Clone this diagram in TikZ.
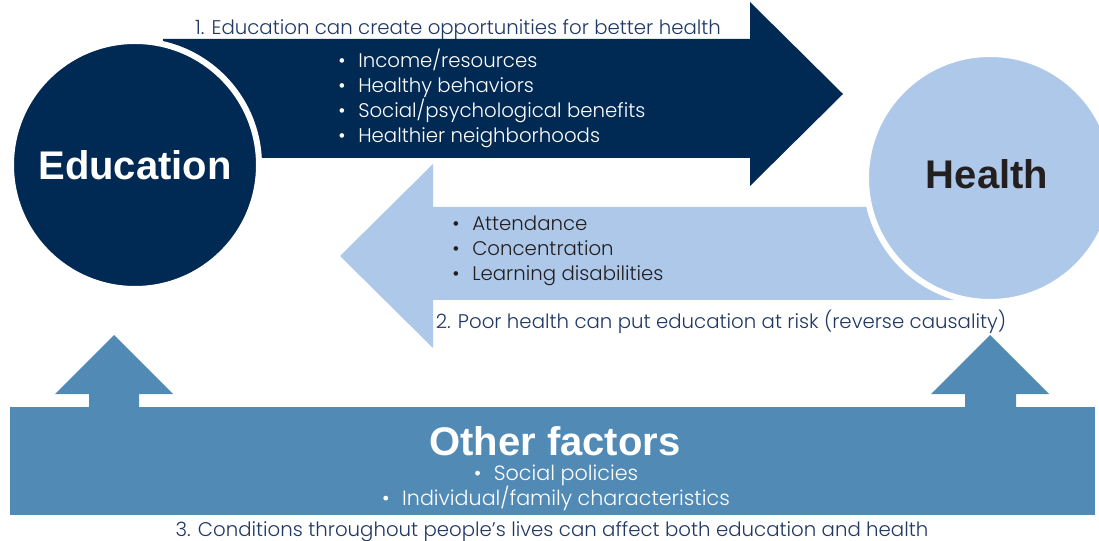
\documentclass[tikz,border=0pt]{standalone}
\usepackage{fontspec}
\setmainfont{Poppins}[UprightFont=* Light]
\newfontfamily\headf{Liberation Sans}
\definecolor{navy}{RGB}{0,41,84}
\definecolor{navytext}{RGB}{31,56,100}
\definecolor{lightblue}{RGB}{174,200,233}
\definecolor{steel}{RGB}{82,138,182}
\definecolor{nearblack}{RGB}{35,31,32}
\newcommand\reg{\fontsize{14.8}{18}\selectfont}
\newcommand\regb{\fontsize{15.5}{18}\selectfont}
\newcommand\bigf{\headf\bfseries\fontsize{30}{36}\selectfont}
\newcommand\bul{\makebox[15pt][l]{\textbullet}}
\tikzset{
  lbl/.style={inner sep=0pt, text=navytext, font=\reg, text height=14pt, text depth=2pt},
  bl/.style={inner sep=0pt, anchor=west, font=\reg, text height=14pt, text depth=2pt},
  ringc/.style={circle, draw=white, line width=4.5pt, inner sep=0pt, minimum size=186pt},
  bigt/.style={inner sep=0pt, font=\bigf}
}
\begin{document}
\begin{tikzpicture}[x=0.75pt,y=-0.75pt]
\useasboundingbox (0,0) rectangle (1099,541);
\begin{scope}
\clip (0,0) rectangle (1099,541);
% dark arrow
\fill[navy] (163,39) -- (750,39) -- (750,2) -- (843,94) -- (750,186) -- (750,158) -- (163,158) -- cycle;
\node[ringc, fill=navy] (edu) at (135,165) {};
% light arrow
\fill[lightblue] (990,207) -- (433,207) -- (433,164) -- (340,256) -- (433,348) -- (433,300) -- (990,300) -- cycle;
\node[ringc, fill=lightblue] (hea) at (990,178) {};
% bottom
\fill[steel] (89,407) -- (89,394) -- (55,394) -- (114,335) -- (173,394) -- (139,394) -- (139,407) -- cycle;
\fill[steel] (965,407) -- (965,394) -- (931,394) -- (990,335) -- (1049,394) -- (1016,394) -- (1016,407) -- cycle;
\node[fill=steel, inner sep=0pt, minimum width=813.75pt, minimum height=81pt] (other) at (552.5,461) {};
\end{scope}
% big titles
\node[bigt, text=white] (edut) at (135,165) {Education};
\node[bigt, text=nearblack] (heat) at (987,174) {Health};
\node[bigt, text=white] (othert) at (555,441) {Other factors};
% labels
\node[lbl] (lab1) at (458,27) {1. Education can create opportunities for better health};
\node[lbl] (lab2) at (721,321) {2. Poor health can put education at risk (reverse causality)};
\node[lbl] (lab3) at (552,528) {3. Conditions throughout people's lives can affect both education and health};
% dark arrow bullets
\node[bl, text=white] (d1) at (338,60) {\bul Income/resources};
\node[bl, text=white] (d2) at (338,85) {\bul Healthy behaviors};
\node[bl, text=white] (d3) at (338,110) {\bul Social/psychological benefits};
\node[bl, text=white] (d4) at (338,135) {\bul Healthier neighborhoods};
% light arrow bullets
\node[bl, text=nearblack] (h1) at (452,223) {\bul Attendance};
\node[bl, text=nearblack] (h2) at (452,248) {\bul Concentration};
\node[bl, text=nearblack] (h3) at (452,273) {\bul Learning disabilities};
% other factors bullets
\node[bl, anchor=center, text=white, font=\regb] (o1) at (556,472) {\bul Social policies};
\node[bl, anchor=center, text=white, font=\regb] (o2) at (556,497) {\bul Individual/family characteristics};
\end{tikzpicture}
\end{document}
